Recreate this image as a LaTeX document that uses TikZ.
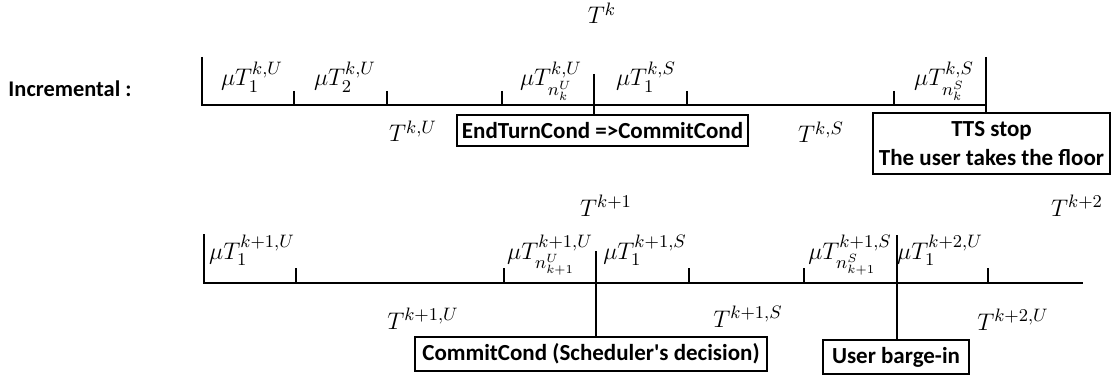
\documentclass[tikz,border=0pt]{standalone}
\usepackage{fontspec}
\newfontfamily\boxfont{Carlito}
\begin{document}
\begin{tikzpicture}[x=0.5pt,y=-0.5pt,line width=0.7pt,
  lbl/.style={inner sep=0pt,anchor=base,font=\fontsize{12.5}{15}\selectfont},
  cbox/.style={draw,line width=0.7pt,inner sep=0pt,font=\boxfont\bfseries\fontsize{11.5}{14.5}\selectfont,align=center},
  tickline/.style={line width=0.7pt}]
\useasboundingbox (0,0) rectangle (1117,379);

% ---------- top timeline ----------
\node[anchor=base,inner sep=0pt,font=\boxfont\bfseries\fontsize{11.2}{14}\selectfont] (incr) at (70,97) {Incremental :};
\node[lbl] (Tk) at (602,24) {$T^{k}$};

\coordinate (a0t) at (202,57);
\coordinate (a0) at (202,105);
\coordinate (aE) at (986,105);
\coordinate (aEt) at (986,57);
\coordinate (amt) at (594,74);

\node[cbox,minimum width=145.5pt,minimum height=15.5pt] (endturn) at (602.5,130.5) {EndTurnCond =>CommitCond};
\node[cbox,minimum width=118.5pt,minimum height=30.5pt] (tts) at (991.5,143.5) {TTS stop\\The user takes the floor};

\draw (a0t) -- (a0) -- (aE);
\draw (aEt) -- (aEt |- tts.north);
\draw (amt) -- (amt |- endturn.north);
\foreach \x [count=\i] in {294,387,502,687,894}{
  \coordinate (ta\i) at (\x,91);
  \coordinate (tb\i) at (\x,105);
  \draw[tickline] (ta\i) -- (tb\i);
}

\node[lbl] (m1) at (252,86) {$\mu T_1^{k,U}$};
\node[lbl] (m2) at (345,86) {$\mu T_2^{k,U}$};
\node[lbl] (mn) at (551,86) {$\mu T_{n_k^U}^{k,U}$};
\node[lbl] (ms1) at (646,86) {$\mu T_1^{k,S}$};
\node[lbl] (msn) at (944,86) {$\mu T_{n_k^S}^{k,S}$};
\node[lbl] (TkU) at (413,142) {$T^{k,U}$};
\node[lbl] (TkS) at (821,143) {$T^{k,S}$};

% ---------- bottom timeline ----------
\node[lbl] (Tk1) at (606,216) {$T^{k+1}$};
\node[lbl] (Tk2) at (1077,216) {$T^{k+2}$};

\coordinate (b0t) at (204,234);
\coordinate (b0) at (204,283);
\coordinate (bE) at (1083,283);
\coordinate (bm1) at (596,251);
\coordinate (bm2) at (897,235);

\node[cbox,minimum width=176pt,minimum height=17pt] (commit) at (591,354) {CommitCond (Scheduler's decision)};
\node[cbox,minimum width=73pt,minimum height=17pt] (barge) at (896,357) {User barge-in};

\draw (b0t) -- (b0) -- (bE);
\draw (bm1) -- (bm1 |- commit.north);
\draw (bm2) -- (bm2 |- barge.north);
\foreach \x [count=\i] in {296,504,689,804,988}{
  \coordinate (tc\i) at (\x,268);
  \coordinate (td\i) at (\x,283);
  \draw[tickline] (tc\i) -- (td\i);
}

\node[lbl] (n1) at (252,259) {$\mu T_1^{k+1,U}$};
\node[lbl] (nn) at (550,259) {$\mu T_{n_{k+1}^U}^{k+1,U}$};
\node[lbl] (ns1) at (645,259) {$\mu T_1^{k+1,S}$};
\node[lbl] (nsn) at (850,259) {$\mu T_{n_{k+1}^S}^{k+1,S}$};
\node[lbl] (n2) at (940,259) {$\mu T_1^{k+2,U}$};
\node[lbl] (Tk1U) at (423,329) {$T^{k+1,U}$};
\node[lbl] (Tk1S) at (748,327) {$T^{k+1,S}$};
\node[lbl] (Tk2U) at (1013,330) {$T^{k+2,U}$};
\end{tikzpicture}
\end{document}
